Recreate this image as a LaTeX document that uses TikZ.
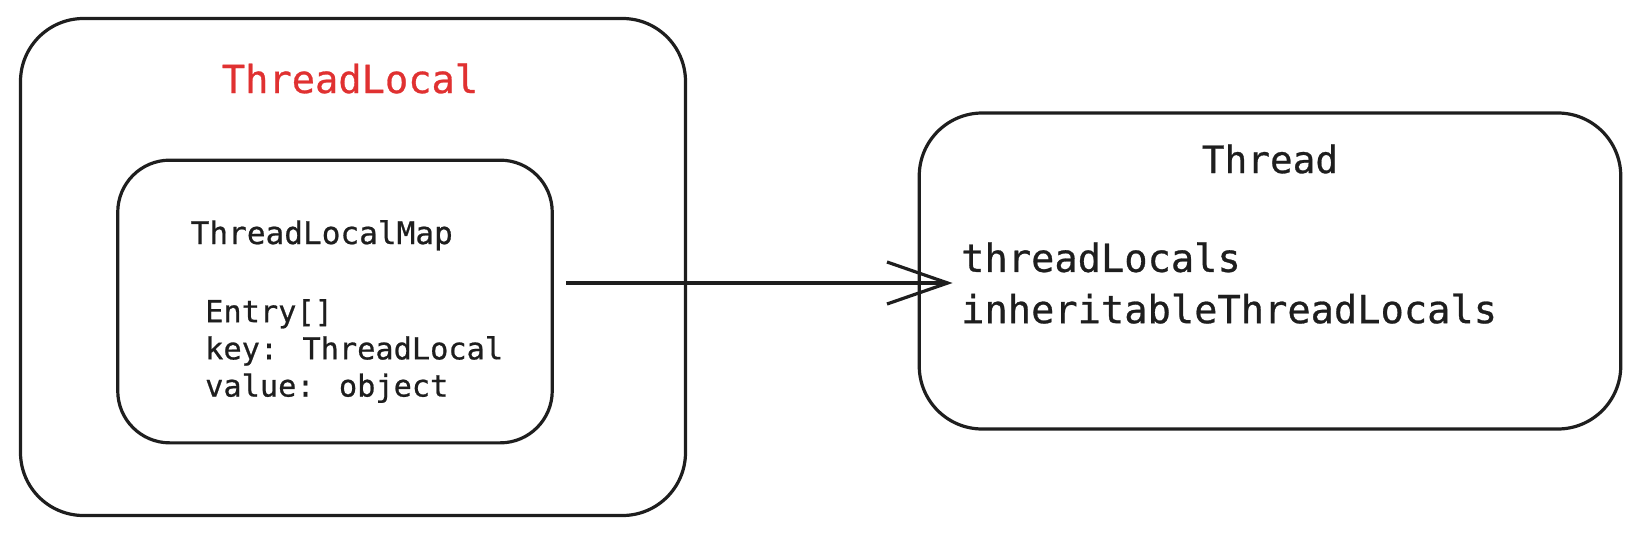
\documentclass[tikz,border=0pt]{standalone}
\usepackage{fontspec}
\newfontfamily\codefont{DejaVu Sans Mono}[FakeBold=0.7]
\usepackage{tikz}
\usetikzlibrary{arrows.meta}
\definecolor{ink}{HTML}{1E1E1E}
\definecolor{tlred}{HTML}{E03131}
\tikzset{
  sketchbox/.style={draw=ink, line width=3.2pt, rounded corners=#1, inner sep=0pt},
  codetext/.style={text=ink, inner sep=0pt, align=left, font=\codefont\fontsize{#1}{#1}\selectfont}
}

\begin{document}
\begin{tikzpicture}[x=1pt,y=-1pt]
  \useasboundingbox (0,0) rectangle (1639,536);
  % ThreadLocal
  \node[sketchbox=63pt, minimum width=665pt, minimum height=497pt] (tl) at (353,267) {};
  \node[codetext=38.7pt, text=tlred] (tltitle) at (350,78.5) {ThreadLocal};
  \node[sketchbox=52pt, minimum width=434.5pt, minimum height=282.7pt] (map) at (335,301.5) {};
  \node[codetext=31.1pt, anchor=base west] (maptitle) at (190.5,244) {ThreadLocalMap};
  \node[codetext=30.3pt, font=\codefont\fontsize{30.3pt}{37.2pt}\selectfont, anchor=west]
    (entry) at (205,351) {Entry[]\\ key: ThreadLocal\\ value: object};
  % Thread
  \node[sketchbox=63pt, minimum width=701.5pt, minimum height=316pt] (thread) at (1270,271) {};
  \node[codetext=37.7pt] (threadtitle) at (1270,159) {Thread};
  \node[codetext=38.7pt, font=\codefont\fontsize{38.7pt}{51.3pt}\selectfont, anchor=west]
    (tfields) at (961,283) {threadLocals\\ inheritableThreadLocals};
  \draw[ink, line width=3.2pt, -{Straight Barb[length=60.7pt, width=42pt]},
    shorten <=12.5pt, shorten >=8.4pt] (tfields.west -| map.east) -- (tfields.west);
\end{tikzpicture}
\end{document}
